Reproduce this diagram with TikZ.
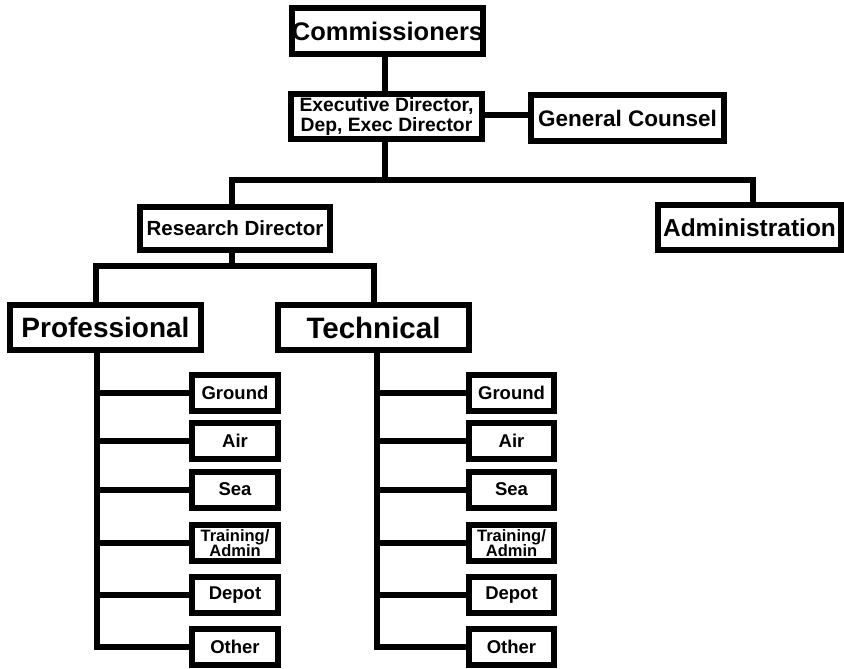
\documentclass[tikz,border=0pt]{standalone}
\usepackage{fontspec}
\setmainfont{Liberation Sans}
\newcommand{\fs}[1]{\fontsize{#1}{1.1\dimexpr #1pt\relax}\selectfont}
\begin{document}
\begin{tikzpicture}[x=1pt,y=-1pt,line width=6pt,line join=miter,
  box/.style={draw,fill=white,inner sep=0pt,align=center},
  sub/.style={box,minimum height=36pt,font=\bfseries\fs{18.5}}]
\useasboundingbox (0,0) rectangle (844,669);
% top
\node[box,minimum width=189pt,minimum height=46pt,font=\bfseries\fs{25.5}] (comm) at (387.5,31) {Commissioners};
\node[box,minimum width=191pt,minimum height=45pt,font=\bfseries\fontsize{19.3}{20.5}\selectfont] (exec) at (386.5,116.5) {Executive Director,\\Dep, Exec Director};
\node[box,minimum width=193pt,minimum height=46pt,font=\bfseries\fs{22.5}] (gc) at (627.5,118) {General Counsel};
\node[box,minimum width=190pt,minimum height=43pt,font=\bfseries\fs{20.5}] (rd) at (235,228.5) {Research Director};
\node[box,minimum width=183pt,minimum height=45pt,font=\bfseries\fs{24.5}] (adm) at (749.5,227.5) {Administration};
\node[box,minimum width=191pt,minimum height=45pt,font=\bfseries\fs{28}] (prof) at (105.5,327.5) {Professional};
\node[box,minimum width=191pt,minimum height=45pt,font=\bfseries\fs{29.5}] (tech) at (373.5,327.5) {Technical};
% sub boxes
\foreach \i/\y/\t in {1/392.5/Ground,2/441/Air,3/489.5/Sea,5/595/Depot,6/647/Other}{
  \node[sub,minimum width=86pt] (p\i) at (235,\y) {\t};
  \node[sub,minimum width=85pt] (t\i) at (511.5,\y) {\t};
}
\node[sub,minimum width=86pt,font=\bfseries\fontsize{16.5}{15.5}\selectfont] (p4) at (235,543) {Training/\\Admin};
\node[sub,minimum width=85pt,font=\bfseries\fontsize{16.5}{15.5}\selectfont] (t4) at (511.5,543) {Training/\\Admin};
% connectors
\coordinate (b1) at (385,180);
\coordinate (b2) at (232,266);
\coordinate (cs) at ([xshift=-2.5pt]comm.south);
\coordinate (es) at ([xshift=-1.5pt]exec.south);
\coordinate (ee) at ([yshift=1.5pt]exec.east);
\coordinate (rn) at ([xshift=-3pt]rd.north);
\coordinate (rs) at ([xshift=-3pt]rd.south);
\coordinate (an) at ([xshift=3.5pt]adm.north);
\coordinate (pn) at ([xshift=-9.5pt]prof.north);
\coordinate (ps) at ([xshift=-8.5pt]prof.south);
\coordinate (ts) at ([xshift=3.5pt]tech.south);
\draw (cs) -- (cs |- exec.north);
\draw (ee) -- (ee -| gc.west);
\draw (es) -- (es |- b1);
\draw (rn) -- (rn |- b1) -- (an |- b1) -- (an);
\draw (rs) -- (rs |- b2);
\draw (pn) -- (pn |- b2) -- (tech.north |- b2) -- (tech.north);
\draw (ps) -- (ps |- p6.west) -- (p6.west);
\draw (ts) -- (ts |- t6.west) -- (t6.west);
\foreach \i in {1,...,5}{
  \draw (ps |- p\i.west) -- (p\i.west);
  \draw (ts |- t\i.west) -- (t\i.west);
}
\end{tikzpicture}
\end{document}
